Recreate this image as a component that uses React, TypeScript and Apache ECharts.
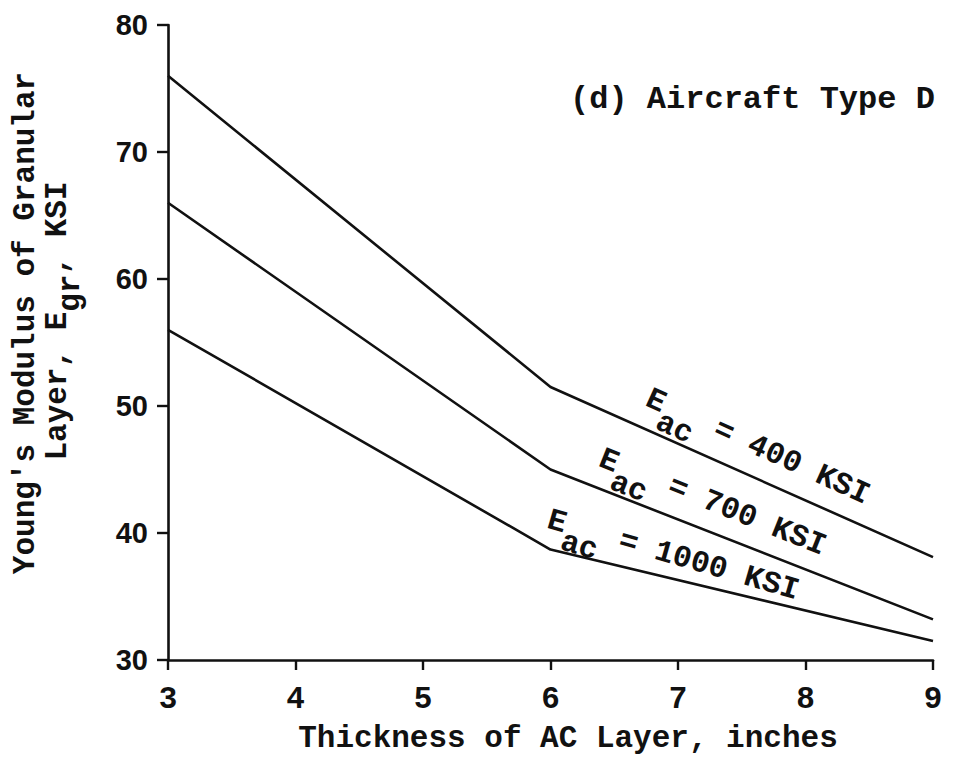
import React, { useEffect, useRef } from "react";
import * as echarts from "echarts";

// Thickness of AC layer (inches) at which the curves are defined
const thickness = [3, 6, 9];
// Young's modulus of granular layer (KSI) for each AC modulus
const eac400 = [76, 51.5, 38.1];
const eac700 = [66, 45.0, 33.2];
const eac1000 = [56, 38.7, 31.5];

const xTicks = [3, 4, 5, 6, 7, 8, 9];
const yTicks = [30, 40, 50, 60, 70, 80];

const MONO = "'Liberation Mono', 'DejaVu Sans Mono', monospace";
const SANS = "'Liberation Sans', Arial, sans-serif";
const FS = 31;
const CW = FS * 0.6; // monospace advance width

// A text made of a main part, a lowered subscript and a tail, laid out along a rotated baseline
function subscriptLabel(
  cx: number,
  cy: number,
  angleDeg: number,
  head: string,
  sub: string,
  tail: string,
  drop: number,
  startOffset: number
) {
  const style = { font: `bold ${FS}px ${MONO}`, fill: "#111", align: "left", verticalAlign: "middle" };
  return {
    type: "group",
    x: cx,
    y: cy,
    rotation: (angleDeg * Math.PI) / 180,
    silent: true,
    children: [
      { type: "text", x: startOffset, y: 0, style: { ...style, text: head } },
      { type: "text", x: startOffset + head.length * CW, y: drop, style: { ...style, text: sub } },
      { type: "text", x: startOffset + (head.length + sub.length) * CW, y: 0, style: { ...style, text: tail } },
    ],
  };
}

export default function App() {
  const ref = useRef<HTMLDivElement>(null);

  useEffect(() => {
    if (!ref.current) return;
    const chart = echarts.init(ref.current, null, { renderer: "svg" });

    const lineStyle = { color: "#111", width: 2.6 };
    const mk = (name: string, ys: number[]) => ({
      name,
      type: "line",
      data: thickness.map((x, i) => [x, ys[i]]),
      showSymbol: false,
      symbol: "none",
      lineStyle,
      silent: true,
    });

    chart.setOption({
      animation: false,
      backgroundColor: "#fff",
      grid: { left: 168, right: 28, top: 25, bottom: 100, containLabel: false },
      xAxis: {
        type: "value",
        min: xTicks[0],
        max: xTicks[xTicks.length - 1],
        interval: 1,
        splitLine: { show: false },
        axisLine: { show: true, onZero: false, lineStyle: { color: "#111", width: 2.6 } },
        axisTick: { show: true, inside: false, length: 10, lineStyle: { color: "#111", width: 2.4 } },
        axisLabel: {
          margin: 24,
          color: "#111",
          fontFamily: MONO,
          fontWeight: "bold",
          fontSize: 31,
        },
      },
      yAxis: {
        type: "value",
        min: yTicks[0],
        max: yTicks[yTicks.length - 1],
        interval: 10,
        splitLine: { show: false },
        axisLine: { show: true, onZero: false, lineStyle: { color: "#111", width: 2.6 } },
        axisTick: { show: true, inside: false, length: 11, lineStyle: { color: "#111", width: 2.4 } },
        axisLabel: {
          margin: 20,
          color: "#111",
          fontFamily: SANS,
          fontWeight: "bold",
          fontSize: 29,
        },
      },
      series: [mk("400", eac400), mk("700", eac700), mk("1000", eac1000)],
      graphic: [
        {
          type: "text",
          left: 570,
          top: 83,
          silent: true,
          style: { text: "(d) Aircraft Type D", font: `bold ${FS + 1}px ${MONO}`, fill: "#111" },
        },
        {
          type: "text",
          x: 568,
          y: 738,
          silent: true,
          style: {
            text: "Thickness of AC Layer, inches",
            font: `bold ${FS}px ${MONO}`,
            fill: "#111",
            align: "center",
            verticalAlign: "middle",
          },
        },
        {
          type: "text",
          x: 25,
          y: 323,
          rotation: Math.PI / 2,
          silent: true,
          style: {
            text: "Young's Modulus of Granular",
            font: `bold ${FS}px ${MONO}`,
            fill: "#111",
            align: "center",
            verticalAlign: "middle",
          },
        },
        subscriptLabel(57, 321, 90, "Layer, E", "gr", ", KSI", 13, -7.5 * CW),
        subscriptLabel(656, 401, -24.2, "E", "ac", " = 400 KSI", 17, -CW / 2),
        subscriptLabel(609, 461, -21.8, "E", "ac", " = 700 KSI", 17, -CW / 2),
        subscriptLabel(557, 522, -16, "E", "ac", " = 1000 KSI", 17, -CW / 2),
      ],
    });

    return () => chart.dispose();
  }, []);

  return (
    <div
      ref={ref}
      style={{ position: "absolute", left: 0, top: 0, width: 961, height: 760, background: "#fff" }}
    />
  );
}
